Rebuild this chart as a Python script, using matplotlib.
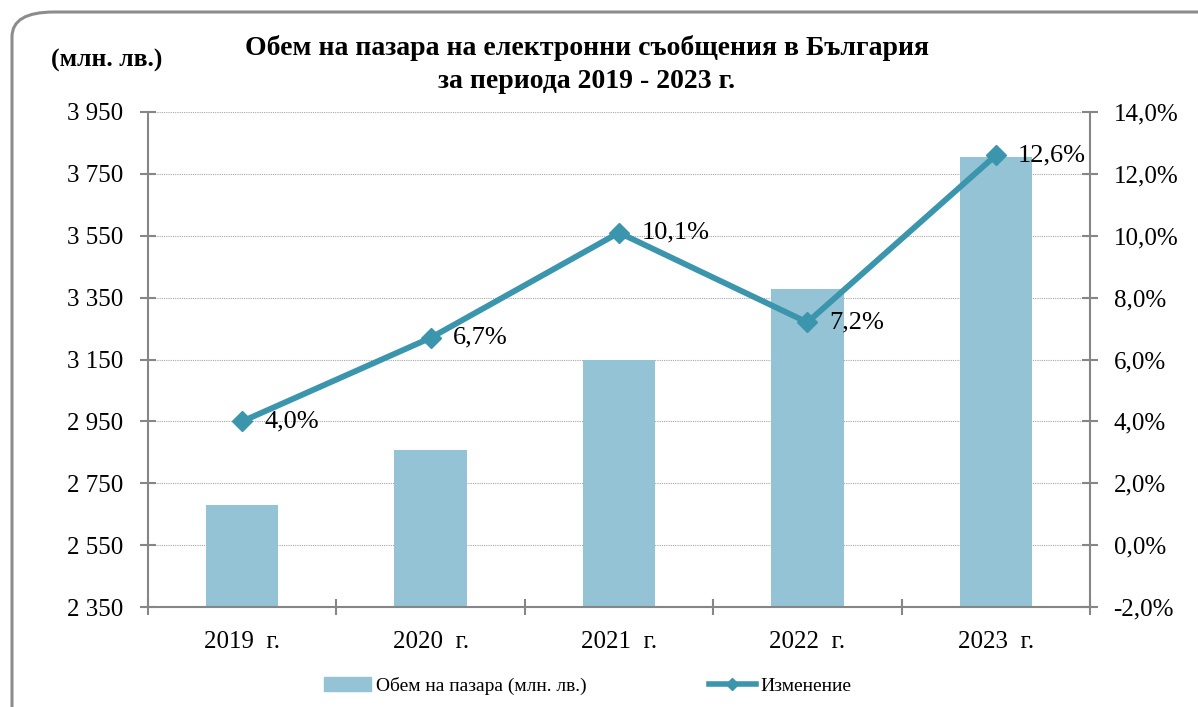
import matplotlib.pyplot as plt
from matplotlib.patches import FancyBboxPatch
from matplotlib.lines import Line2D
from matplotlib.patches import Patch
import numpy as np

years = ["2019  г.", "2020  г.", "2021  г.", "2022  г.", "2023  г."]
volume = [2680, 2857, 3148, 3378, 3804]
change = [4.0, 6.7, 10.1, 7.2, 12.6]
change_labels = ["4,0%", "6,7%", "10,1%", "7,2%", "12,6%"]

left_ticks = [2350, 2550, 2750, 2950, 3150, 3350, 3550, 3750, 3950]
right_ticks = [-2, 0, 2, 4, 6, 8, 10, 12, 14]

bar_color = "#93C3D5"
line_color = "#3A95AD"
axis_color = "#868686"

plt.rcParams["font.family"] = ["Liberation Serif", "DejaVu Serif"]

fig = plt.figure(figsize=(11.98, 7.07), dpi=100)

# rounded frame around the chart (cut off at right/bottom like the screenshot)
frame = FancyBboxPatch((12 / 1198, -0.05), 1.05, (707 - 12) / 707 + 0.05,
                       boxstyle="round,pad=0,rounding_size=0.035",
                       transform=fig.transFigure, fill=False,
                       edgecolor="#8c8c8c", linewidth=2.2, clip_on=False)
fig.patches.append(frame)

ax = fig.add_axes([148 / 1198, 1 - 607 / 707, (1090 - 148) / 1198, (607 - 112) / 707])
x = np.arange(len(years))
ax.bar(x, volume, width=0.385, color=bar_color, zorder=2)
ax.set_ylim(2350, 3950)
ax.set_xlim(-0.5, len(years) - 0.5)
ax.set_yticks(left_ticks)
ax.set_yticklabels([f"{v // 1000} {v % 1000:03d}" for v in left_ticks], fontsize=18)
ax.set_xticks(x)
ax.set_xticklabels(years, fontsize=18)
ax.set_xticks(np.arange(len(years) + 1) - 0.5, minor=True)
ax.tick_params(axis="x", which="major", length=0, pad=17)
ax.tick_params(axis="x", which="minor", direction="inout", length=12, width=1.5,
               color=axis_color)
ax.tick_params(axis="y", direction="inout", length=12, width=1.5, color=axis_color, pad=12)
ax.grid(axis="y", linestyle=(0, (1, 1)), color="#a6a6a6", linewidth=0.8, zorder=0)
for s in ["top", "right"]:
    ax.spines[s].set_visible(False)
for s in ["left", "bottom"]:
    ax.spines[s].set_color(axis_color)
    ax.spines[s].set_linewidth(1.5)

ax2 = ax.twinx()
ax2.plot(x, change, color=line_color, linewidth=4.2, marker="D", markersize=10,
         zorder=3)
ax2.set_ylim(-2, 14)
ax2.set_yticks(right_ticks)
ax2.set_yticklabels([f"{v:.1f}%".replace(".", ",") for v in right_ticks], fontsize=18)
ax2.tick_params(axis="y", direction="inout", length=12, width=1.5, color=axis_color, pad=11)
for s in ["top", "left", "bottom"]:
    ax2.spines[s].set_visible(False)
ax2.spines["right"].set_color(axis_color)
ax2.spines["right"].set_linewidth(1.5)
for xi, v, lab in zip(x, change, change_labels):
    ax2.annotate(lab, (xi, v), xytext=(16, 0), textcoords="offset points",
                 va="center", ha="left", fontsize=19)

fig.text(0.49, 1 - 48 / 707, "Обем на пазара на електронни съобщения в България",
         ha="center", va="center", fontsize=20, fontweight="bold")
fig.text(0.49, 1 - 81 / 707, "за периода 2019 - 2023 г.",
         ha="center", va="center", fontsize=20, fontweight="bold")
fig.text(107 / 1198, 1 - 60 / 707, "(млн. лв.)", ha="center", va="center",
         fontsize=18.5, fontweight="bold")

handles = [Patch(color=bar_color),
           Line2D([0], [0], color=line_color, linewidth=4, marker="D", markersize=6)]
fig.legend(handles, ["Обем на пазара (млн. лв.)", "Изменение"],
           loc="center", bbox_to_anchor=(588 / 1198, 1 - 686 / 707), ncol=2,
           frameon=False, fontsize=14, columnspacing=6.3, handlelength=2.4,
           handletextpad=0.25)

fig.savefig("out.png", dpi=100)
